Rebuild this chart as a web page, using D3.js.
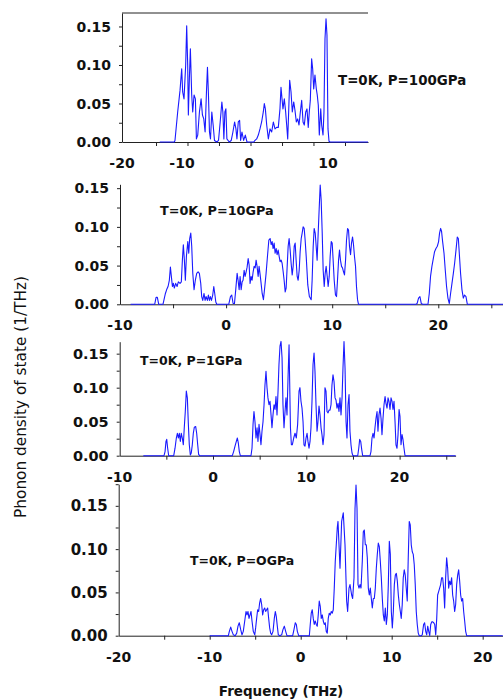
<!DOCTYPE html>
<html><head><meta charset="utf-8">
<script src="https://cdn.jsdelivr.net/npm/d3@7"></script>
<style>body{margin:0;background:#fff}svg{display:block}</style>
</head><body>
<script>
// ---- DATA (frequency in THz, phonon DOS in 1/THz) ----
const p1Freq=[-13.7,-11.28,-11.17,-10.72,-10.33,-10.05,-9.9,-9.7,-9.45,-9.3,-9.15,-9.05,-8.9,-8.75,-8.55,-8.4,-8.2,-8.0,-7.85,-7.65,-7.4,-7.15,-6.95,-6.75,-6.55,-6.35,-6.2,-6.05,-5.9,-5.75,-5.55,-5.35,-5.15,-4.8,-4.55,-4.3,-4.05,-3.9,-3.75,-3.6,-3.45,-3.3,-2.95,-2.65,-2.4,-2.15,-1.95,-1.8,-1.6,-1.4,-1.25,-1.05,-0.8,-0.55,-0.3,0.6,0.76,0.97,1.18,1.39,1.6,1.81,1.94,2.07,2.24,2.45,2.66,2.87,3.08,3.29,3.5,3.71,3.92,4.05,4.18,4.3,4.47,4.64,4.77,4.9,5.02,5.15,5.32,5.48,5.66,5.82,5.99,6.16,6.33,6.5,6.67,6.84,7.0,7.18,7.34,7.5,7.63,7.76,7.93,8.06,8.19,8.35,8.52,8.64,8.77,8.9,9.08,9.2,9.37,9.49,9.62,9.75,9.87,10.0,10.15,10.3,16];
const p1Dos=[0,0,.002,.039,.067,.095,.065,.056,.100,.151,.100,.035,.082,.121,.061,.039,.061,.056,.004,.009,.039,.056,.035,.030,.013,.065,.097,.061,.013,.004,.039,.022,.002,0,.002,.026,.052,.039,.004,.039,.043,.004,0,.002,.013,.026,.017,.004,.026,.028,.002,.013,.002,.009,0,0,.002,.004,.009,.017,.026,.039,.050,.043,.022,.004,.017,.013,.026,.017,.019,.019,.043,.071,.056,.043,.056,.039,.022,.004,.039,.080,.065,.039,.052,.041,.026,.030,.022,.039,.054,.026,.022,.039,.043,.019,.039,.054,.108,.095,.069,.087,.069,.061,.048,.009,.043,.022,.009,.039,.134,.160,.139,.017,.001,0,0];

const p2Freq=[-9,-6.85,-6.73,-6.6,-6.48,-6.35,-5.95,-5.85,-5.72,-5.6,-5.47,-5.35,-5.25,-5.16,-5.06,-4.97,-4.88,-4.75,-4.62,-4.5,-4.34,-4.22,-4.12,-4.03,-3.93,-3.84,-3.74,-3.61,-3.52,-3.43,-3.33,-3.24,-3.14,-3.02,-2.9,-2.77,-2.64,-2.52,-2.39,-2.3,-2.2,-2.08,-1.98,-1.89,-1.76,-1.67,-1.57,-1.48,-1.38,-1.26,-1.16,-1.07,-0.97,-0.88,0.25,0.41,0.53,0.66,0.79,0.91,1.04,1.13,1.23,1.32,1.42,1.51,1.6,1.7,1.79,1.89,1.98,2.08,2.17,2.26,2.36,2.45,2.55,2.64,2.74,2.83,2.92,3.02,3.11,3.21,3.3,3.4,3.52,3.65,3.77,3.9,4.03,4.15,4.25,4.34,4.43,4.53,4.62,4.72,4.81,4.91,5.0,5.09,5.19,5.28,5.38,5.47,5.57,5.66,5.75,5.85,5.94,6.04,6.13,6.23,6.32,6.42,6.51,6.6,6.7,6.79,6.89,6.98,7.08,7.17,7.26,7.36,7.45,7.55,7.7,7.85,8.02,8.11,8.21,8.3,8.4,8.49,8.58,8.68,8.77,8.87,8.96,9.06,9.15,9.25,9.34,9.43,9.53,9.62,9.72,9.81,9.91,10.0,10.09,10.19,10.31,10.41,10.5,10.6,10.69,10.78,10.88,10.97,11.07,11.16,11.26,11.35,11.45,11.54,11.63,11.73,11.82,11.92,12.01,12.1,12.2,12.29,12.39,12.48,17.9,18.0,18.14,18.27,18.4,18.52,19.03,19.15,19.27,19.4,19.53,19.65,19.78,19.91,20.03,20.12,20.22,20.31,20.41,20.54,20.66,20.78,20.91,21.04,21.16,21.29,21.42,21.54,21.67,21.79,21.89,21.98,22.1,22.23,22.36,22.48,22.61,22.74,26.1];
const p2Dos=[0,0,0,.009,.009,0,0,.006,.014,.019,.023,.031,.048,.036,.023,.027,.021,.027,.023,.029,.027,.029,.057,.077,.057,.031,.062,.081,.066,.085,.092,.075,.040,.019,.031,.040,.042,.040,.027,.010,.005,.014,.005,.010,.005,.012,.005,.010,.005,.012,.023,.014,.003,0,0,.010,.012,.001,.001,.019,.040,.031,.019,.036,.019,.029,.031,.044,.036,.042,.048,.059,.051,.027,.036,.031,.042,.049,.047,.057,.049,.036,.049,.038,.027,.014,.006,.023,.040,.062,.083,.085,.077,.081,.072,.079,.066,.072,.064,.070,.062,.055,.057,.053,.042,.031,.016,.021,.047,.075,.085,.070,.053,.038,.049,.075,.079,.057,.036,.031,.044,.068,.085,.092,.100,.098,.083,.062,.025,.010,.006,.031,.075,.098,.092,.075,.057,.092,.122,.154,.135,.092,.044,.023,.040,.049,.036,.023,.036,.062,.081,.079,.057,.031,.012,.010,.031,.057,.070,.057,.049,.047,.042,.038,.057,.083,.098,.096,.075,.064,.079,.087,.077,.062,.049,.023,.006,0,0,.001,.008,.010,.001,0,0,.014,.036,.049,.059,.068,.072,.075,.081,.092,.098,.094,.081,.066,.044,.023,.008,.001,.014,.027,.040,.053,.070,.087,.085,.066,.040,.019,.008,.012,.010,0,0];

const p3Freq=[-7.47,-5.25,-5.14,-5.04,-4.96,-4.86,-4.75,-4.21,-4.07,-3.93,-3.82,-3.71,-3.61,-3.5,-3.4,-3.29,-3.18,-3.08,-2.97,-2.86,-2.75,-2.64,-2.54,-2.43,-2.33,-2.22,-2.11,-2.0,-1.86,-1.75,-1.64,-1.54,-1.43,2.07,2.21,2.36,2.5,2.61,2.71,2.82,2.93,4.07,4.18,4.29,4.39,4.5,4.61,4.72,4.82,4.93,5.04,5.14,5.25,5.36,5.47,5.57,5.68,5.79,5.89,6.0,6.11,6.22,6.32,6.43,6.54,6.65,6.75,6.86,6.97,7.07,7.18,7.29,7.4,7.5,7.61,7.72,7.82,7.93,8.04,8.15,8.3,8.4,8.5,8.65,8.79,8.93,9.07,9.22,9.32,9.43,9.54,9.65,9.75,9.86,9.97,10.08,10.18,10.29,10.4,10.5,10.61,10.72,10.83,10.93,11.04,11.15,11.25,11.36,11.47,11.58,11.68,11.79,11.9,12.0,12.11,12.22,12.33,12.43,12.54,12.65,12.75,12.86,12.97,13.08,13.18,13.29,13.4,13.5,13.61,13.72,13.83,13.93,14.04,14.15,14.26,14.36,14.47,14.58,14.68,14.79,14.9,15.0,15.51,15.62,15.72,15.83,15.94,16.04,16.83,16.93,17.04,17.15,17.26,17.36,17.47,17.58,17.68,17.79,17.9,18.01,18.11,18.22,18.33,18.44,18.54,18.65,18.76,18.86,18.97,19.08,19.19,19.29,19.4,19.51,19.61,19.72,19.83,19.94,20.04,20.15,20.26,20.36,20.47,20.58,26];
const p3Dos=[0,0,.006,.021,.024,.011,0,0,.011,.026,.033,.026,.033,.021,.033,.026,.016,.041,.065,.095,.085,.046,.016,.001,.004,.016,.033,.042,.043,.033,.016,.002,0,0,.006,.014,.021,.026,.019,.006,0,0,.011,.046,.065,.050,.026,.041,.021,.046,.031,.016,.036,.050,.075,.104,.124,.100,.085,.075,.080,.060,.041,.060,.075,.068,.087,.060,.095,.134,.161,.168,.144,.075,.041,.065,.085,.060,.114,.163,.041,.016,.016,.026,.033,.026,.046,.095,.100,.080,.070,.050,.016,.014,.026,.033,.021,.011,.021,.041,.080,.134,.151,.124,.075,.036,.050,.073,.060,.041,.031,.016,.031,.100,.095,.065,.063,.067,.067,.075,.104,.119,.109,.085,.082,.070,.077,.065,.085,.060,.085,.129,.168,.129,.050,.026,.075,.090,.036,.016,.004,0,0,.011,.024,.021,.009,0,0,.006,.026,.033,.026,.041,.055,.065,.036,.060,.070,.055,.031,.055,.075,.087,.077,.070,.085,.080,.068,.085,.080,.068,.080,.050,.016,.011,.031,.068,.058,.016,.031,.024,.011,0,0];

const p4Freq=[-10,-7.95,-7.84,-7.69,-7.55,-7.4,-7.2,-7.03,-6.89,-6.75,-6.59,-6.45,-6.31,-6.15,-6.01,-5.9,-5.79,-5.68,-5.57,-5.46,-5.35,-5.21,-5.05,-4.95,-4.84,-4.73,-4.62,-4.51,-4.4,-4.29,-4.18,-4.07,-3.96,-3.85,-3.74,-3.63,-3.52,-3.41,-3.3,-3.19,-3.04,-2.9,-2.79,-2.68,-2.57,-2.46,-2.3,-2.09,-1.95,-1.8,-1.65,-1.51,-0.88,-0.74,-0.59,-0.48,-0.37,-0.22,0.95,1.05,1.16,1.27,1.38,1.49,1.6,1.71,1.82,1.93,2.04,2.15,2.26,2.37,2.48,2.59,2.7,2.81,2.92,3.03,3.14,3.25,3.36,3.47,3.58,3.69,3.8,3.91,4.02,4.1,4.32,4.5,4.68,4.87,5.05,5.16,5.31,5.42,5.6,5.71,5.86,5.97,6.08,6.19,6.3,6.41,6.52,6.63,6.77,6.88,6.99,7.1,7.21,7.32,7.43,7.54,7.65,7.76,7.87,7.98,8.09,8.2,8.31,8.42,8.53,8.64,8.75,8.86,8.97,9.08,9.19,9.3,9.41,9.52,9.63,9.74,9.85,9.96,10.07,10.18,10.29,10.4,10.51,10.62,10.73,10.84,10.95,11.05,11.16,11.27,11.38,11.49,11.6,11.71,11.82,11.93,12.04,12.15,12.26,12.37,12.48,12.59,12.7,12.81,12.92,13.03,13.22,13.36,13.51,13.62,13.74,13.85,13.96,14.07,14.18,14.29,14.4,14.51,14.62,14.73,14.84,14.95,15.05,15.16,15.27,15.38,15.49,15.6,15.71,15.82,15.93,16.04,16.15,16.26,16.37,16.48,16.59,16.7,16.81,16.92,17.03,17.14,17.25,17.36,17.47,17.58,17.69,17.8,17.91,18.02,18.13,18.24,22.2];
const p4Dos=[0,0,.005,.010,.005,.001,0,.003,.011,.015,.007,.001,.005,.017,.028,.024,.028,.020,.024,.028,.017,.005,.001,.009,.020,.030,.028,.038,.043,.036,.024,.030,.032,.028,.030,.032,.020,.009,.003,.001,.005,.020,.028,.022,.011,.001,0,.001,.007,.011,.005,0,0,.007,.015,.013,.005,0,0,.013,.026,.030,.020,.013,.017,.013,.011,.024,.040,.034,.020,.024,.017,.013,.015,.005,.003,.020,.026,.024,.028,.026,.030,.055,.086,.105,.125,.132,.078,.132,.142,.105,.040,.028,.055,.059,.047,.043,.067,.147,.174,.147,.059,.055,.059,.055,.086,.120,.122,.105,.105,.090,.055,.047,.055,.043,.032,.043,.043,.055,.078,.094,.107,.103,.086,.067,.043,.024,.017,.032,.013,.024,.059,.109,.094,.028,.009,.028,.059,.070,.072,.063,.047,.036,.028,.020,.036,.067,.076,.070,.055,.040,.090,.132,.128,.105,.097,.094,.082,.059,.028,.013,.003,0,0,.001,.013,.015,.005,.001,.011,.005,0,.013,.016,.016,.015,.013,.001,.020,.047,.051,.055,.059,.067,.067,.055,.032,.067,.090,.078,.055,.063,.059,.067,.047,.040,.028,.036,.059,.070,.076,.063,.047,.040,.043,.028,.017,.005,0,0];

// tick values / labels
const p1XLabels=[-20,-10,0,10];
const p1XTicks=[-14.33,-9.18,-4.48,0.19,4.18,8.16,12.55];
const p2XLabels=[-10,0,10,20];
const p2XTicks=[-5,0,5,10,15,20,25];
const p3XLabels=[-10,0,10,20];
const p3XTicks=[-5,0,5,10,15,20,25];
const p4XLabels=[-20,-10,0,10,20];
const p4XTicks=[-15,-10,-5,0,5,10,15,20];
const yLabelValues=[0,0.05,0.10,0.15];
const yTickValues=[0,0.025,0.05,0.075,0.10,0.125,0.15];
const p4YTickValues=[0,0.025,0.05,0.075,0.10,0.125,0.15,0.175];
const panelLabels=["T=0K, P=100GPa","T=0K, P=10GPa","T=0K, P=1GPa","T=0K, P=OGPa"];
const xTitle="Frequency (THz)";
const yTitle="Phonon density of state (1/THz)";

// ---- LAYOUT ----
const W=503,H=700;
const svg=d3.select("body").append("svg").attr("width",W).attr("height",H)
  .style("font-family","'DejaVu Sans', Verdana, sans-serif");

const panels=[
 {freq:p1Freq,dos:p1Dos,xl:p1XLabels,xt:p1XTicks,yt:yTickValues,label:panelLabels[0],
  xd:[-20,-10,0,10,16],xr:[122,182,249,328,368],yd:[0,0.1675],yr:[142,13],top:true,
  lx:338,ly:80,ls:13.4,fs:14},
 {freq:p2Freq,dos:p2Dos,xl:p2XLabels,xt:p2XTicks,yt:yTickValues,label:panelLabels[1],
  xd:[-10,26.1],xr:[120,503],yd:[0,0.155],yr:[304.3,184.3],top:false,
  lx:160,ly:210,ls:12.8,fs:14},
 {freq:p3Freq,dos:p3Dos,xl:p3XLabels,xt:p3XTicks,yt:yTickValues,label:panelLabels[2],
  xd:[-10,26],xr:[119.7,455.6],yd:[0,0.1676],yr:[455.7,341.7],top:false,
  lx:140,ly:360,ls:12.5,fs:14.5},
 {freq:p4Freq,dos:p4Dos,xl:p4XLabels,xt:p4XTicks,yt:p4YTickValues,label:panelLabels[3],
  xd:[-20,22.2],xr:[118.7,502.7],yd:[0,0.175],yr:[635.7,484.2],top:false,
  lx:190,ly:560,ls:12.5,fs:15}
];

const fmtY=d3.format(".2f");
panels.forEach(p=>{
  const x=d3.scaleLinear().domain(p.xd).range(p.xr);
  const y=d3.scaleLinear().domain(p.yd).range(p.yr);
  const g=svg.append("g");
  const x0=x(p.xd[0]);
  const xa=g.append("g").attr("transform",`translate(0,${y(0)})`)
    .call(d3.axisBottom(x).tickValues(p.xt).tickSize(4).tickSizeOuter(0).tickFormat(""));
  xa.selectAll("path,line").attr("stroke","#222");
  const ya=g.append("g").attr("transform",`translate(${x0},0)`)
    .call(d3.axisLeft(y).tickValues(p.yt).tickSize(3).tickSizeOuter(0).tickFormat(""));
  ya.selectAll("path,line").attr("stroke","#222");
  if(p.top){
    g.append("line").attr("x1",x0).attr("x2",x(p.xd[p.xd.length-1]))
      .attr("y1",y(p.yd[1])).attr("y2",y(p.yd[1])).attr("stroke","#222");
  }
  g.selectAll("text.yl").data(yLabelValues).join("text").attr("class","yl")
    .attr("x",x0-11).attr("y",d=>y(d)).attr("dy","0.36em").attr("text-anchor","end")
    .attr("font-size",p.fs).attr("font-weight","bold").attr("fill","#111").text(fmtY);
  g.selectAll("text.xl").data(p.xl).join("text").attr("class","xl")
    .attr("x",d=>x(d)).attr("y",y(0)+21).attr("dy","0.36em").attr("text-anchor","middle")
    .attr("font-size",14).attr("font-weight","bold").attr("fill","#111").text(d=>String(d));
  const pts=d3.zip(p.freq,p.dos);
  g.append("path").datum(pts).attr("fill","none").attr("stroke","#1a1aff").attr("stroke-width",1.1)
    .attr("stroke-linejoin","round")
    .attr("d",d3.line().x(d=>x(d[0])).y(d=>y(d[1])));
  g.append("text").attr("x",p.lx).attr("y",p.ly).attr("dy","0.36em")
    .attr("font-size",p.ls).attr("font-weight","bold").attr("fill","#111").text(p.label);
});

svg.append("text").attr("x",281).attr("y",691).attr("dy","0.36em").attr("text-anchor","middle")
  .attr("font-size",13.5).attr("font-weight","bold").attr("fill","#111").text(xTitle);
svg.append("text").attr("transform","translate(20,397) rotate(-90)").attr("dy","0.36em")
  .attr("text-anchor","middle").attr("font-size",15.3).attr("fill","#111").text(yTitle);
</script>
</body></html>
